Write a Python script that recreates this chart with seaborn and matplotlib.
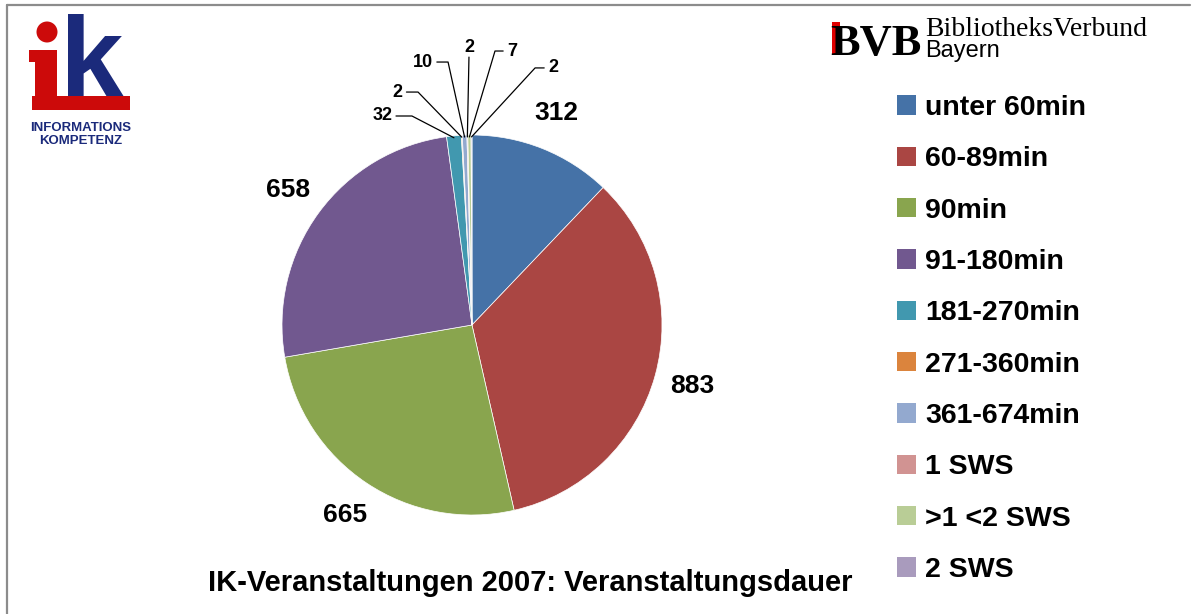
"""Pie chart: IK-Veranstaltungen 2007, Veranstaltungsdauer."""
import numpy as np
import matplotlib
matplotlib.use("Agg")
import matplotlib.pyplot as plt
import seaborn as sns
from matplotlib.patches import Patch, Rectangle, Ellipse
from matplotlib.lines import Line2D

# data
categories = ['unter 60min', '60-89min', '90min', '91-180min', '181-270min',
              '271-360min', '361-674min', '1 SWS', '>1 <2 SWS', '2 SWS']
counts = [312, 883, 665, 658, 32, 2, 10, 2, 7, 2]
colors = ['#4572A7', '#AA4643', '#89A54E', '#71588F', '#4198AF',
          '#DB843D', '#93A9CF', '#D19392', '#B9CD96', '#A99BBD']
title = 'IK-Veranstaltungen 2007: Veranstaltungsdauer'

# label layout for the thin slices (pie units): text pos, ha, stub end
small_layout = {
    4: ((-0.42, 1.10), 'right', (-0.316, 1.10)),
    5: ((-0.365, 1.226), 'right', (-0.284, 1.226)),
    6: ((-0.205, 1.384), 'right', (-0.126, 1.384)),
    7: ((-0.016, 1.46), 'center', (-0.016, 1.41)),
    8: ((0.184, 1.442), 'left', (0.121, 1.442)),
    9: ((0.40, 1.353), 'left', (0.332, 1.353)),
}

sns.set_theme(style='white')
plt.rcParams['font.family'] = ['Liberation Sans', 'DejaVu Sans']
plt.rcParams['text.color'] = 'black'

W, H = 1196, 614
fig = plt.figure(figsize=(W / 100, H / 100), dpi=100)

# pie axes: centre (472, 325) px, radius 190 px, limits +-1.5
cx, cy, r = 472, 325, 190
half = 1.5 * r
ax = fig.add_axes([(cx - half) / W, (H - cy - half) / H, 2 * half / W, 2 * half / H])
palette = sns.color_palette(colors)
wedges, _ = ax.pie(counts, colors=palette, startangle=90, counterclock=False,
                   wedgeprops=dict(edgecolor='white', linewidth=0.5))
ax.set_xlim(-1.5, 1.5)
ax.set_ylim(-1.5, 1.5)
ax.axis('off')

for i, (w, v) in enumerate(zip(wedges, counts)):
    mid = np.deg2rad((w.theta1 + w.theta2) / 2)
    ex, ey = np.cos(mid), np.sin(mid)
    if i in small_layout:
        (tx, ty), ha, (sx, sy) = small_layout[i]
        ax.text(tx, ty, str(v), ha=ha, va='center', fontsize=13, fontweight='bold')
        if ha == 'center':
            ax.plot([sx, ex], [sy, ey * 0.99], color='black', lw=0.9, clip_on=False)
        else:
            stub_x = tx + (0.02 if ha == 'right' else -0.02)
            ax.plot([stub_x, sx, ex], [ty, sy, ey * 0.99], color='black', lw=0.9,
                    clip_on=False)
    else:
        ax.text(1.2 * ex, 1.2 * ey, str(v), ha='center', va='center',
                fontsize=19, fontweight='bold')

# legend
handles = [Patch(facecolor=c, edgecolor='none') for c in palette]
fig.legend(handles, categories, loc='upper left', bbox_to_anchor=(897 / W, 1 - 95 / H),
           frameon=False, prop={'weight': 'bold', 'size': 20.5},
           handlelength=0.67, handleheight=0.67, handletextpad=0.32,
           labelspacing=0.89, borderpad=0, borderaxespad=0)

fig.text(530 / W, 1 - 583 / H, title, ha='center', va='center',
         fontsize=21, fontweight='bold')

# frame lines
fig.add_artist(Line2D([6.5 / W, 6.5 / W], [0, 1 - 4.5 / H], color='#8c8c8c', lw=1.6))
fig.add_artist(Line2D([6.5 / W, 1190 / W], [1 - 4.5 / H, 1 - 4.5 / H], color='#8c8c8c', lw=1.6))

# ik logo
red, navy = '#cc0a0a', '#1b2a7b'
fig.add_artist(Rectangle((32 / W, 1 - 110 / H), 98 / W, 14 / H, color=red, lw=0))
fig.add_artist(Rectangle((35 / W, 1 - 100 / H), 22 / W, 50 / H, color=red, lw=0))
fig.add_artist(Rectangle((29 / W, 1 - 62 / H), 12 / W, 12 / H, color=red, lw=0))
fig.add_artist(Ellipse((47 / W, 1 - 32 / H), 21 / W, 21 / H, color=red, lw=0,
                       transform=fig.transFigure))
fig.text(60 / W, 1 - 96 / H, 'k', color=navy, fontsize=82, fontweight='bold',
         ha='left', va='baseline')
fig.text(81 / W, 1 - 128 / H, 'INFORMATIONS', color=navy, fontsize=9.5,
         fontweight='bold', ha='center', va='center')
fig.text(81 / W, 1 - 141 / H, 'KOMPETENZ', color=navy, fontsize=9.5,
         fontweight='bold', ha='center', va='center')

# BVB logo
fig.text(830 / W, 1 - 55 / H, 'BVB', fontsize=32, fontweight='bold',
         family='Liberation Serif', ha='left', va='baseline')
fig.add_artist(Rectangle((832 / W, 1 - 55 / H), 8 / W, 33 / H, color='#e00000', lw=0))
fig.text(925 / W, 1 - 36 / H, 'BibliotheksVerbund', fontsize=20,
         family='Liberation Serif', ha='left', va='baseline')
fig.text(925 / W, 1 - 57 / H, 'Bayern', fontsize=17,
         family='Liberation Sans', ha='left', va='baseline')

fig.savefig('out.png', dpi=100)
